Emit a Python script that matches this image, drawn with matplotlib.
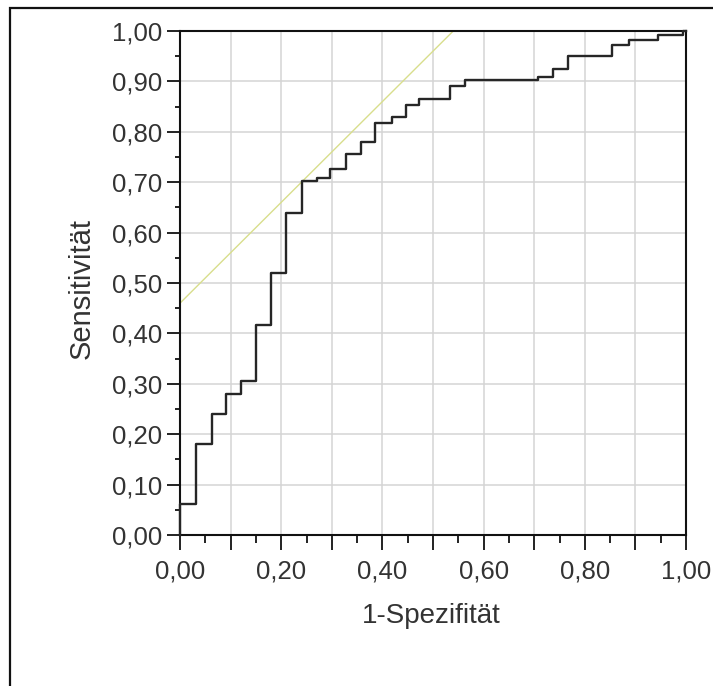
import numpy as np
import matplotlib.pyplot as plt
from matplotlib.patches import Rectangle
from matplotlib.ticker import MultipleLocator

plt.rcParams['font.family'] = ['Liberation Sans', 'DejaVu Sans']

# ROC-Kurve: obere Ecken der Stufen (1-Spezifität, Sensitivität)
fpr = [0.0, 0.0, 0.032, 0.063, 0.091, 0.12, 0.15, 0.179, 0.21, 0.241,
       0.27, 0.296, 0.328, 0.357, 0.386, 0.418, 0.447, 0.472, 0.534, 0.563,
       0.708, 0.738, 0.767, 0.853, 0.888, 0.945, 0.994, 1.0]
tpr = [0.0, 0.062, 0.18, 0.24, 0.28, 0.306, 0.417, 0.52, 0.638, 0.702,
       0.708, 0.727, 0.756, 0.78, 0.817, 0.83, 0.853, 0.865, 0.89, 0.903,
       0.908, 0.924, 0.95, 0.972, 0.982, 0.992, 1.0, 1.0]

# Tangente (Youden): y = x + 0.46
tangent_x = [0.0, 0.54]
tangent_y = [0.46, 1.0]

xticks = [0.0, 0.2, 0.4, 0.6, 0.8, 1.0]
xticklabels = ["0,00", "0,20", "0,40", "0,60", "0,80", "1,00"]
yticks = [0.0, 0.1, 0.2, 0.3, 0.4, 0.5, 0.6, 0.7, 0.8, 0.9, 1.0]
yticklabels = ["0,00", "0,10", "0,20", "0,30", "0,40", "0,50",
               "0,60", "0,70", "0,80", "0,90", "1,00"]

W, H = 713, 686
fig = plt.figure(figsize=(W / 100, H / 100), dpi=100)
fig.patch.set_facecolor("white")

# outer frame (only left and top visible)
fig.add_artist(Rectangle((10 / W, -0.1), 1.2, (H - 8) / H + 0.1,
                         transform=fig.transFigure, fill=False,
                         edgecolor="#111111", linewidth=1.6))

ax = fig.add_axes([180 / W, (H - 535) / H, 506 / W, 504 / H])
ax.set_xlim(0, 1)
ax.set_ylim(0, 1)

ax.xaxis.set_major_locator(MultipleLocator(0.1))
ax.yaxis.set_major_locator(MultipleLocator(0.1))
ax.xaxis.set_minor_locator(MultipleLocator(0.05))
ax.yaxis.set_minor_locator(MultipleLocator(0.05))
ax.grid(True, which="major", color="#d4d4d4", linewidth=1.1)
ax.set_axisbelow(True)

ax.plot(tangent_x, tangent_y, color="#d8de8c", linewidth=1.0, zorder=2)
ax.plot(fpr, tpr, drawstyle="steps-post", color="#262626",
        linewidth=1.7, zorder=3, clip_on=False)

major_x = np.round(np.arange(0, 1.01, 0.1), 2)
xlabels_all = [xticklabels[xticks.index(v)] if v in xticks else ""
               for v in major_x]
ax.set_xticks(major_x)
ax.set_xticklabels(xlabels_all)
ax.set_yticks(yticks)
ax.set_yticklabels(yticklabels)

ax.tick_params(axis="x", which="major", length=10.8, width=1.3,
               direction="out", labelsize=18.5, pad=6.5, colors="#111111",
               labelcolor="#333333")
ax.tick_params(axis="x", which="minor", length=5.8, width=1.3,
               direction="out", colors="#111111")
ax.tick_params(axis="y", which="major", length=9.4, width=1.3,
               direction="out", labelsize=18.5, pad=3.6, colors="#111111",
               labelcolor="#333333")
ax.tick_params(axis="y", which="minor", length=3.6, width=1.3,
               direction="out", colors="#111111")

for s in ax.spines.values():
    s.set_linewidth(1.5)
    s.set_color("#111111")

ax.set_xlabel("1-Spezifität", fontsize=20, color="#333333")
ax.set_ylabel("Sensitivität", fontsize=21, color="#333333")
ax.xaxis.label.set(va="center", ha="center")
ax.yaxis.label.set(va="center", ha="center")
ax.xaxis.set_label_coords(0.496, -0.160)
ax.yaxis.set_label_coords(-0.194, 0.490)

fig.savefig("out.png", dpi=100, facecolor="white")
